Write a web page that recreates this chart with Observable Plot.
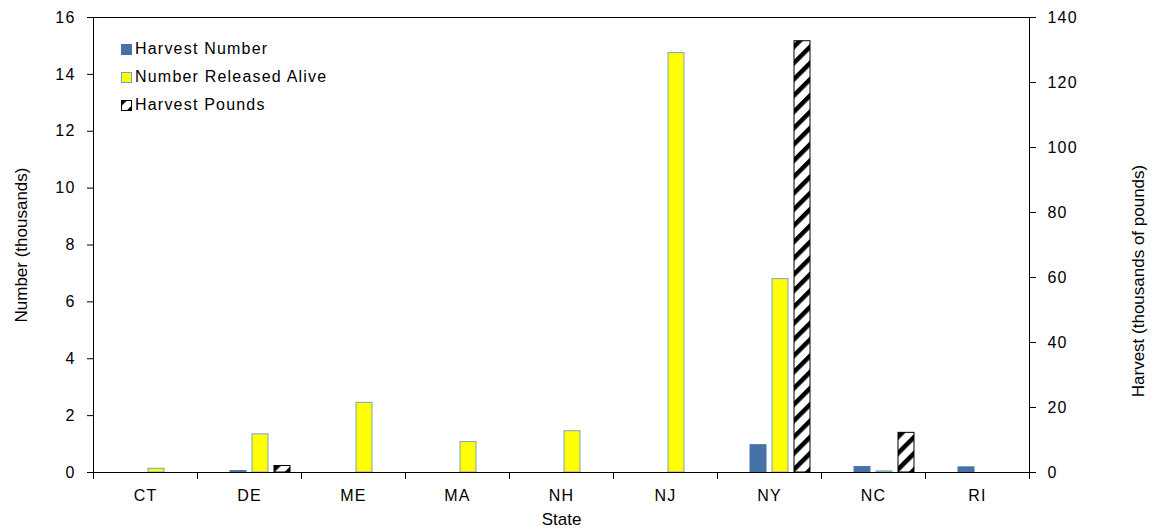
<!DOCTYPE html>
<html><head><meta charset="utf-8">
<script src="https://cdn.jsdelivr.net/npm/d3@7"></script>
<script src="https://cdn.jsdelivr.net/npm/@observablehq/plot@0.6"></script>
<style>
html,body{margin:0;padding:0;background:#fff;}
#wrap{position:relative;width:1156px;height:531px;font-family:'Liberation Sans',Arial,sans-serif;}
.legend{position:absolute;left:121px;top:35px;font-size:16px;letter-spacing:1.2px;color:#000;}
.legend .row{display:flex;align-items:center;height:28px;white-space:nowrap;}
.legend svg{margin-right:3px;}
g[aria-label$="tick label"] text{letter-spacing:1.2px;}
</style></head><body><div id="wrap"></div>
<script>
const states = ["CT","DE","ME","MA","NH","NJ","NY","NC","RI"];
const seriesNames = ["Harvest Number","Number Released Alive","Harvest Pounds"];
const harvestNumber = [0, 0.05, 0, 0, 0, 0, 0.96, 0.19, 0.18];        // thousands
const releasedAlive = [0.13, 1.34, 2.45, 1.07, 1.45, 14.75, 6.8, 0.04, 0]; // thousands
const harvestPounds = [0, 2.0, 0, 0, 0, 0, 132.7, 12.2, 0];          // thousands of pounds
const leftTicks = [0,2,4,6,8,10,12,14,16];
const rightTicks = [0,20,40,60,80,100,120,140];
const yTitle = "Number (thousands)";
const y2Title = "Harvest (thousands of pounds)";
const xTitle = "State";
const K = 16/140; // right axis -> left axis

const colors = {"Harvest Number":"#4672A8","Number Released Alive":"#FFFF00","Harvest Pounds":"url(#hatch)"};
const strokes = {"Harvest Number":"#4672A8","Number Released Alive":"#7D9FD0","Harvest Pounds":"#000"};
const values = {"Harvest Number":harvestNumber,"Number Released Alive":releasedAlive,"Harvest Pounds":harvestPounds.map(v=>v*K)};

const mt = 17, mb = 59, W = 1156, Ht = 531;
const H = Ht - mt - mb;

const barMarks = seriesNames.map(s => Plot.barY(states.map((st,i)=>({state:st, series:s, value:values[s][i]})), {
  fx:"state", x:"series", y:"value", fill: colors[s], stroke: strokes[s], strokeWidth: 1
}));

const chart = Plot.plot({
  width: W, height: Ht,
  marginLeft: 91, marginRight: 125, marginTop: mt, marginBottom: mb,
  style: {fontFamily:"'Liberation Sans', Arial, sans-serif", fontSize:"16px", color:"#000", background:"#fff", overflow:"visible"},
  fx: {domain: states, padding: 0},
  x: {domain: seriesNames, paddingInner: 0.26, paddingOuter: 0.9, align: 0.75, axis: null},
  y: {domain: [0,16]},
  marks: [
    ...barMarks,
    Plot.frame({anchor:"top", stroke:"#000"}),
    Plot.frame({anchor:"bottom", stroke:"#000"}),
    Plot.frame({anchor:"left", insetTop: H, insetBottom: -6, stroke:"#000"}),
    Plot.frame({anchor:"left", facetAnchor:"left", insetBottom:-6, stroke:"#000"}),
    Plot.frame({anchor:"right", facetAnchor:"right", insetBottom:-6, stroke:"#000"}),
    Plot.axisY({anchor:"left", ticks: leftTicks, tickSize: 6, tickPadding: 12, fontSize: 16, label: null}),
    Plot.axisY({anchor:"right", ticks: rightTicks.map(v=>v*K), tickFormat: v => String(Math.round(v/K)), tickSize: 6, tickPadding: 12, fontSize: 16, label: null}),
    Plot.axisFx({anchor:"bottom", tickSize: 0, tickPadding: 17, fontSize: 16, label: null}),
    Plot.text([yTitle], {frameAnchor:"left", facetAnchor:"left", rotate:-90, textAnchor:"middle", lineAnchor:"middle", dx:-72, fontSize:17, fill:"#000"}),
    Plot.text([y2Title], {frameAnchor:"right", facetAnchor:"right", rotate:-90, textAnchor:"middle", lineAnchor:"middle", dx:109, dy:36, fontSize:17, fill:"#000"}),
    Plot.text([xTitle], {frameAnchor:"bottom", facetAnchor:"bottom", textAnchor:"middle", lineAnchor:"bottom", dy:52, fontSize:17, fill:"#000", facet:"super"})
  ]
});

const ns = "http://www.w3.org/2000/svg";
const defs = document.createElementNS(ns, "defs");
defs.innerHTML = `<pattern id="hatch" patternUnits="userSpaceOnUse" width="11.5" height="11.5" patternTransform="rotate(45)"><rect width="11.5" height="11.5" fill="#fff"/><rect width="4.5" height="11.5" fill="#000"/></pattern>`;
chart.insertBefore(defs, chart.firstChild);

const wrap = document.getElementById("wrap");
wrap.appendChild(chart);

const legend = document.createElement("div");
legend.className = "legend";
seriesNames.forEach(s => {
  const row = document.createElement("div");
  row.className = "row";
  row.innerHTML = `<svg width="11" height="11"><rect x="0.5" y="0.5" width="10" height="10" fill="${colors[s]}" stroke="${strokes[s]}"/></svg><span>${s}</span>`;
  legend.appendChild(row);
});
wrap.appendChild(legend);
</script></body></html>
